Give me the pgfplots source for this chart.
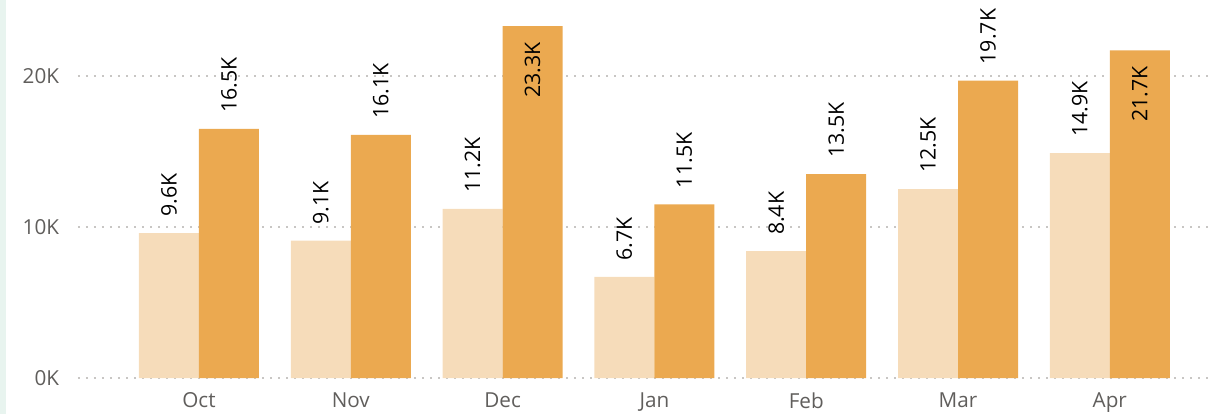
\documentclass[border=0pt]{standalone}
\usepackage{fontspec}
\setmainfont{Open Sans}
\usepackage{pgfplots}
\usepackage{pgfplotstable}
\pgfplotsset{compat=1.18}

\definecolor{barlight}{HTML}{F6DCBA}
\definecolor{bardark}{HTML}{EBA950}
\definecolor{tickgray}{HTML}{605E5C}
\definecolor{gridgray}{HTML}{C8C6C4}
\definecolor{mint}{HTML}{E8F4EF}

% previous / current, values in thousands
\pgfplotstableread{
x y lab
0 9.6 9.6K
1 9.1 9.1K
2 11.2 11.2K
3 6.7 6.7K
4 8.4 8.4K
5 12.5 12.5K
6 14.9 14.9K
}\prevtab
\pgfplotstableread{
x y lab
0 16.5 16.5K
1 16.1 16.1K
2 23.3 23.3K
3 11.5 11.5K
4 13.5 13.5K
5 19.7 19.7K
6 21.7 21.7K
}\currtab

\begin{document}
\begin{tikzpicture}
\begin{axis}[
  name=ax,
  scale only axis,
  width=849pt, height=283.5pt,
  xmin=-0.797, xmax=6.66,
  ymin=0, ymax=25.033,
  axis line style={draw=none},
  clip=false,
  ybar=0pt, bar width=45pt,
  xtick={0,...,6},
  xticklabels={Oct,Nov,Dec,Jan,Feb,Mar,Apr},
  ytick={0,10,20},
  yticklabels={0K,10K,20K},
  tick style={draw=none},
  ymajorgrids,
  grid style={gridgray, line width=1.5pt, dash pattern=on 1.5pt off 4.5pt},
  font=\fontsize{16pt}{19pt}\selectfont,
  tick label style={font=\fontsize{15.5pt}{19pt}\selectfont, text=tickgray},
  yticklabel style={anchor=east, inner xsep=0pt, xshift=-14pt},
  xticklabel style={anchor=north, inner ysep=0pt, yshift=-6.5pt},
  nodes near coords,
  point meta=explicit symbolic,
  visualization depends on={y \as \rawy},
  every node near coord/.append style={rotate=90, inner xsep=12pt,
    font=\fontsize{16pt}{19pt}\selectfont, text=black},
  every node near coord/.append code={%
    \pgfmathparse{\rawy>20.5 ? 1 : 0}%
    \ifnum\pgfmathresult=1 \pgfkeysalso{anchor=east}\else\pgfkeysalso{anchor=west}\fi},
]
\addplot[fill=barlight, draw=none] table[x=x, y=y, meta=lab] {\prevtab};
\addplot[fill=bardark, draw=none] table[x=x, y=y, meta=lab] {\currtab};
\end{axis}
\fill[mint] ([xshift=-58.5pt,yshift=-27pt]ax.south west) rectangle ([xshift=-54pt]ax.north west);
\pgfresetboundingbox
\path[use as bounding box] ([xshift=-58.5pt,yshift=-27pt]ax.south west) rectangle (ax.north east);
\end{tikzpicture}
\end{document}
